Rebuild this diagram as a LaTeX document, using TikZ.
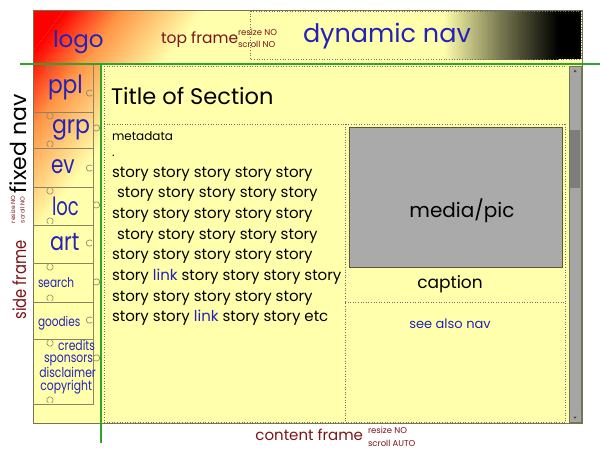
\documentclass[tikz,border=0pt]{standalone}
\usepackage{fontspec}
\usepackage{graphicx}
\setmainfont{Poppins}
\definecolor{paleyel}{RGB}{255,255,172}
\definecolor{midorange}{RGB}{255,150,70}
\definecolor{navblue}{RGB}{35,35,185}
\definecolor{lblred}{RGB}{125,20,25}
\definecolor{greenl}{RGB}{45,165,45}
\definecolor{borderc}{RGB}{115,115,85}
\definecolor{piecec}{RGB}{140,130,100}
\definecolor{dotc}{RGB}{110,110,110}
\definecolor{mediag}{RGB}{170,170,170}
\definecolor{trackg}{RGB}{165,165,165}
\definecolor{thumbg}{RGB}{125,125,125}
\newcommand{\fs}[1]{\fontsize{#1}{#1}\selectfont}
\newcommand{\cond}[2]{\scalebox{#1}[1]{#2}}
\begin{document}
\begin{tikzpicture}[x=1pt,y=-1pt,
  txt/.style={inner sep=0pt, outer sep=0pt},
  bluelbl/.style={txt, text=navblue},
  redlbl/.style={txt, text=lblred},
  blacklbl/.style={txt, text=black},
  storyline/.style={txt, anchor=base west, font=\fs{15}},
  dotline/.style={draw=dotc, dotted, line width=0.6pt},
  piece/.style={draw=piecec, line width=0.6pt},
  knob/.style={draw=piecec, line width=0.6pt},
  greenrule/.style={draw=greenl, line width=2pt}]
\useasboundingbox (0,0) rectangle (600,453);
\fill[white] (0,0) rectangle (600,453);
% gradient area: top frame + side frame
\begin{scope}
  \clip (33,10) -- (582,10) -- (582,64) -- (101,64) -- (101,423) -- (33,423) -- cycle;
  \fill[paleyel] (0,0) rectangle (600,453);
  \begin{scope}[shift={(33,10)}, rotate=-37]
    \fill[red] (-100,-500) rectangle (25,500);
    \foreach \i in {0,...,19} {
      \pgfmathsetmacro\p{100-\i*5}
      \fill[red!\p!midorange] ({25+\i*2.3},-500) rectangle ({25+(\i+1)*2.3+0.4},500);
    }
    \foreach \i in {0,...,24} {
      \pgfmathsetmacro\p{100-\i*4}
      \fill[midorange!\p!paleyel] ({71+\i*2.6},-500) rectangle ({71+(\i+1)*2.6+0.4},500);
    }
  \end{scope}
\end{scope}
% dynamic nav gradient
\shade[left color=paleyel, right color=black, middle color={rgb,255:red,120;green,120;blue,80}] (443,11) rectangle (558,59);
\fill[black] (557.5,11) rectangle (581,59);
\draw[dotline] (250,11) rectangle (581,59);
% content frame
\fill[paleyel] (101,64) rectangle (582,423);
% scrollbar
\fill[trackg] (569,66) rectangle (581,422);
\draw[borderc, line width=0.5pt] (569,66) rectangle (581,422);
\fill[thumbg] (570,130) rectangle (580,188);
\draw[borderc!60, line width=0.4pt] (570,67) rectangle (580,74);
\fill[black!70] (573.5,72) -- (576.5,72) -- (575,69.5) -- cycle;
\draw[borderc!60, line width=0.4pt] (570,414) rectangle (580,421);
\fill[black!70] (573.5,416.5) -- (576.5,416.5) -- (575,419) -- cycle;
% dotted content structure
\draw[dotline] (104,66) -- (566,66);
\draw[dotline] (104,66) -- (104,422);
\draw[dotline] (104,422) -- (566,422);
\draw[dotline] (104,124) -- (566,124);
\draw[dotline] (345,124) -- (345,422);
\draw[dotline] (565,124) -- (565,422);
\draw[dotline] (345,302) -- (565,302);
% media box
\draw[draw={rgb,255:red,90;green,90;blue,50}, fill=mediag, line width=0.6pt] (349,127) rectangle (562,267);
% outer border
\draw[borderc, line width=0.7pt] (33,10) rectangle (582,423);
% puzzle pieces
\draw[piece] (93,64) -- (93,404) -- (33,404);
\foreach \yy in {112,148,187,225,263,302,339} {
  \draw[piece] (33,\yy) -- (93,\yy);
}
% knobs bulging downward from a horizontal edge
\foreach \yy in {64,112,187,263,339} {
  \draw[knob] (50,\yy+4) ++(-60:3.2) arc (-60:240:3.2);
}
% knobs bulging upward from a horizontal edge
\foreach \yy in {148,225,302,404} {
  \draw[knob] (50,\yy-4) ++(120:3.2) arc (120:420:3.2);
}
% inward knobs on right edge
\foreach \yy in {93,168,243,320} {
  \draw[knob] (89.5,\yy) ++(40:3.2) arc (40:320:3.2);
}
% outward knobs
\foreach \yy in {128,205,282,358} {
  \draw[knob] (96.5,\yy) ++(-140:3.2) arc (-140:140:3.2);
}
% green rules
\draw[greenrule] (20,64) -- (600,64);
\draw[greenrule] (101,64) -- (101,443);
% top texts
\node[bluelbl, anchor=base west, font=\fs{23}] (logo) at (53,47) {logo};
\node[redlbl, anchor=base west, font=\fs{15.5}] (topframe) at (161,43) {top frame};
\node[redlbl, anchor=base west, font=\fs{8.5}] (topresize) at (238,35.5) {resize NO};
\node[redlbl, anchor=base west, font=\fs{8.5}] (topscroll) at (238,47.5) {scroll NO};
\node[bluelbl, anchor=base west, font=\fs{25.5}] (dynnav) at (303,42) {dynamic nav};
% side nav labels
\node[bluelbl, anchor=base west, font=\fs{25}] (ppl) at (48,93) {\cond{0.87}{ppl}};
\node[bluelbl, anchor=base west, font=\fs{25}] (grp) at (52,133) {\cond{0.88}{grp}};
\node[bluelbl, anchor=base west, font=\fs{25}] (ev) at (51,173) {\cond{0.8}{ev}};
\node[bluelbl, anchor=base west, font=\fs{25}] (loc) at (52,215) {\cond{0.72}{loc}};
\node[bluelbl, anchor=base west, font=\fs{25}] (art) at (50,250) {\cond{0.83}{art}};
\node[bluelbl, anchor=base west, font=\fs{13.5}] (search) at (38,287) {\cond{0.78}{search}};
\node[bluelbl, anchor=base west, font=\fs{13.5}] (goodies) at (38,326) {\cond{0.78}{goodies}};
\node[bluelbl, anchor=base east, font=\fs{13.5}] (credits) at (95,350) {\cond{0.8}{credits}};
\node[bluelbl, anchor=base east, font=\fs{13.5}] (sponsors) at (93,362) {\cond{0.8}{sponsors}};
\node[bluelbl, anchor=base east, font=\fs{13.5}] (disclaimer) at (96,377) {\cond{0.8}{disclaimer}};
\node[bluelbl, anchor=base east, font=\fs{13.5}] (copyright) at (92,390) {\cond{0.8}{copyright}};
% rotated left labels
\node[blacklbl, rotate=90, anchor=base, font=\fs{22}] (fixednav) at (27,144) {fixed nav};
\node[redlbl, rotate=90, anchor=base, font=\fs{18}] (sideframe) at (26,280) {\cond{0.82}{side frame}};
\node[redlbl, rotate=90, anchor=base west, font=\fs{6}] (sideresize) at (15,223) {resize NO};
\node[redlbl, rotate=90, anchor=base west, font=\fs{6}] (sidescroll) at (24.5,223) {scroll NO};
% content texts
\node[blacklbl, anchor=base west, font=\fs{22.5}] (title) at (111,104) {Title of Section};
\node[blacklbl, anchor=base west, font=\fs{12}] (meta) at (112,140) {metadata};
\node[blacklbl, anchor=base west, font=\fs{12}] (dot) at (112,156) {.};
\node[storyline] (s1) at (112,177) {story story story story story};
\node[storyline] (s2) at (117,197.7) {story story story story story};
\node[storyline] (s3) at (112,218.4) {story story story story story};
\node[storyline] (s4) at (117,239.1) {story story story story story};
\node[storyline] (s5) at (112,259.8) {story story story story story};
\node[storyline] (s6) at (112,280.5) {story \textcolor{navblue}{link} story story story story};
\node[storyline] (s7) at (112,301.2) {story story story story story};
\node[storyline] (s8) at (112,321.9) {story story \textcolor{navblue}{link} story story etc};
\node[blacklbl, anchor=base, font=\fs{20}] (media) at (462,217) {media/pic};
\node[blacklbl, anchor=base, font=\fs{17}] (caption) at (450,288) {caption};
\node[bluelbl, anchor=base, font=\fs{13}] (seealso) at (450,328) {see also nav};
% bottom label
\node[redlbl, anchor=base east, font=\fs{15}] (contentframe) at (363,440) {content frame};
\node[redlbl, anchor=base west, font=\fs{8.5}] (cresize) at (368,433) {resize NO};
\node[redlbl, anchor=base west, font=\fs{8.5}] (cscroll) at (368,446) {scroll AUTO};
\end{tikzpicture}
\end{document}
